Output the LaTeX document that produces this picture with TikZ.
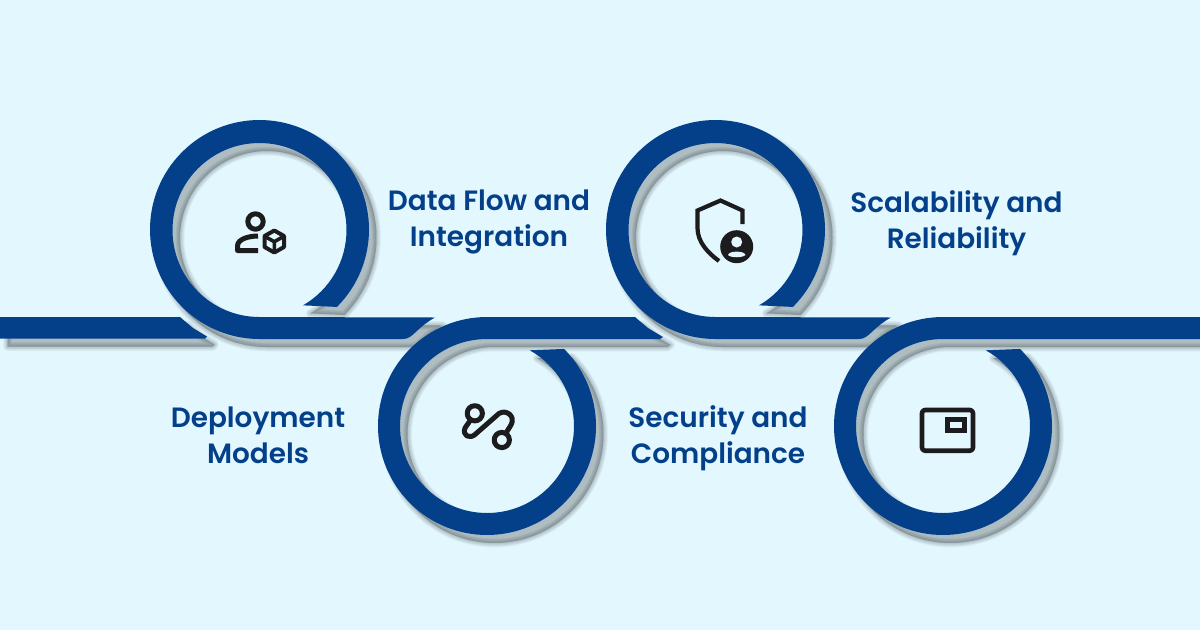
\documentclass[tikz,border=0pt]{standalone}
\usepackage{fontspec}
\newfontfamily\popfont{Poppins SemiBold}
\definecolor{bgc}{HTML}{E2F7FE}
\definecolor{navy}{HTML}{04408A}
\definecolor{ink}{HTML}{1C1C1E}
\newcommand{\barshape}{(0,317) -- (180,317) -- (193,328) -- (207,336.5) -- (205,338.5) -- (0,338.5) -- cycle}
\newcommand{\ringup}{([shift={(259.5,229.5)}]45:109.5pt) arc[start angle=45,end angle=-270,radius=109.5pt] -- (403,339) .. controls (413,339) and (416,328) .. (435,317.5) -- (259.5,317) arc[start angle=-270,end angle=60,radius=87pt] -- cycle}
\newcommand{\ringdown}{([shift={(487,426)}]-45:109pt) arc[start angle=-45,end angle=270,radius=109pt] -- (635,317) -- (648,328) -- (663,337) -- (660,339) -- (487,339) arc[start angle=270,end angle=-60.5,radius=87pt] -- cycle}
\newcommand{\ringend}{([shift={(943,426)}]-45:109pt) arc[start angle=-45,end angle=270,radius=109pt] -- (1200,317) -- (1200,339) -- (943,339) arc[start angle=270,end angle=-60.5,radius=87pt] -- cycle}
\newcommand{\allbands}[1]{%
  \path[#1] \barshape;
  \path[#1] \ringup;
  \path[#1] \ringdown;
  \begin{scope}[shift={(456,0)}]\path[#1] \ringup;\end{scope}
  \path[#1] \ringend;}
\tikzset{
  bandfill/.style={fill=navy},
  softshadow/.style={fill=black,draw=black,line width=#1,line join=round,opacity=.034},
  icon/.style={draw=ink,line width=5pt,line join=round,line cap=round,fill=none},
  label/.style={text=navy,font=\popfont\fontsize{27.9}{36}\selectfont,align=center,inner sep=0pt}
}
\begin{document}
\begin{tikzpicture}[x=1pt,y=1pt]
\path[use as bounding box,fill=bgc] (0,0) rectangle (1200,-630);
\begin{scope}[yscale=-1]
  \begin{scope}[shift={(7.5,8)}]
    \foreach \w in {0.1pt,1.5pt,3pt,4.5pt,6pt,7.5pt,9pt}{\allbands{softshadow=\w}}
  \end{scope}
  \allbands{bandfill}
  % icon: person and cube
  \draw[icon] (255.5,221.5) circle[radius=7.7pt];
  \draw[icon,line cap=butt] (258,236) .. controls (249,236) and (237.5,239) .. (237.5,246) -- (237.5,250.5) -- (258,250.5);
  \draw[icon,line width=4pt] (274.3,230.5) -- (284,236) -- (284,247) -- (274.3,252.5) -- (264.6,247) -- (264.6,236) -- cycle;
  \draw[icon,line width=3.6pt,line cap=butt] (265,236.5) -- (274.3,241.7) -- (283.6,236.5) (274.3,241.7) -- (274.3,252);
  % icon: shield and user
  \draw[icon,line width=4.2pt,line cap=butt,line join=miter] (742.5,224) -- (742.5,210.5) -- (720.5,200.5) -- (697.5,210.5) -- (697.5,228) .. controls (697.5,242) and (708,253) .. (719,261);
  \fill[ink] (736.7,246.7) circle[radius=16.5pt];
  \fill[bgc] (736.7,242) circle[radius=5.5pt];
  \fill[bgc] (728,255) .. controls (729,250.5) and (744.5,250.5) .. (745.5,255) .. controls (742,258) and (731,258) .. (728,255) -- cycle;
  % icon: path with two rings
  \draw[icon] (474.8,413.3) circle[radius=7.6pt];
  \draw[icon] (501.8,440) circle[radius=7.6pt];
  \draw[icon] (470.5,420) -- (465,428) .. controls (462,436) and (470,439) .. (475,434.5) -- (499,413.5) .. controls (506,409) and (516,416) .. (511,425) -- (506,433);
  % icon: window with small panel
  \draw[icon,rounded corners=3pt,line width=4.6pt] (922,410) rectangle (973,450.7);
  \draw[icon,line cap=butt,line join=miter] (947.5,419.5) rectangle (964.5,430.5);
\end{scope}
\node[label] (dataflow) at (489,-222) {Data Flow and\\Integration};
\node[label] (scale) at (956.5,-223) {Scalability and\\Reliability};
\node[label] (deploy) at (258,-435) {Deployment\\Models};
\node[label] (security) at (718,-438) {Security and\\Compliance};
\end{tikzpicture}
\end{document}
